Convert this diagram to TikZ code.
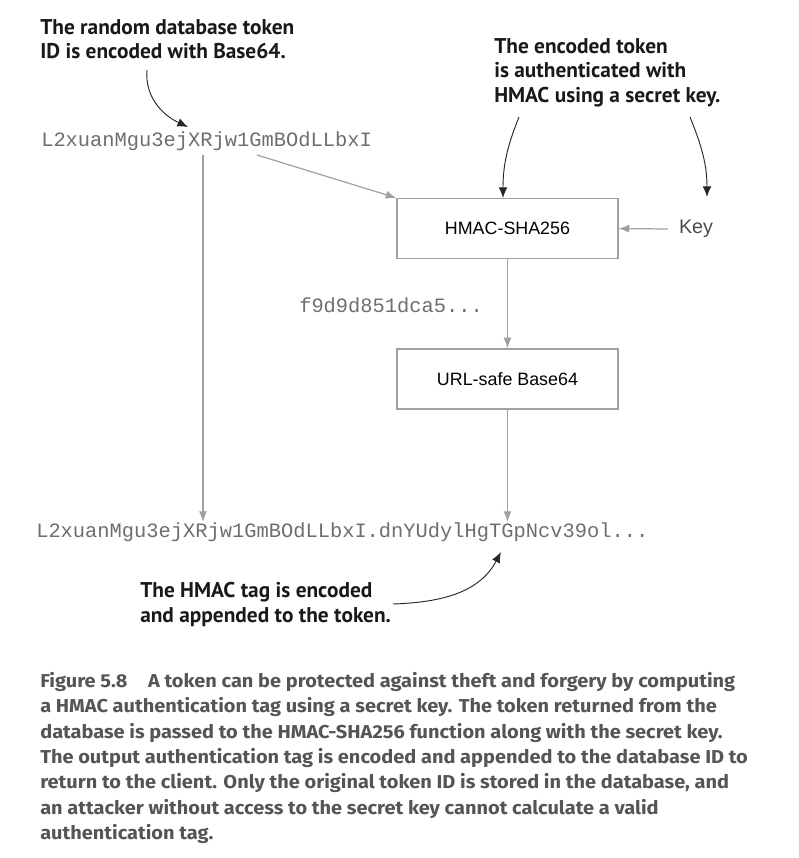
\documentclass[tikz,border=0pt]{standalone}
\usepackage{xcolor}
\usepackage{fontspec}
\setmainfont{Liberation Sans}
\newfontfamily\notefont{PT Sans}
\newfontfamily\capfont{Fira Sans}[FakeStretch=1.07]
\newfontfamily\codefont{Liberation Mono}
\usetikzlibrary{arrows.meta}
\definecolor{linegray}{HTML}{A0A0A0}
\definecolor{codegray}{HTML}{6E6E6E}
\definecolor{capgray}{HTML}{555555}

\begin{document}
\begin{tikzpicture}[
			x=0.75pt, y=-0.75pt,
			box/.style={draw=linegray, line width=0.9pt, minimum width=165.75pt, minimum height=45pt, inner sep=0pt, font=\fontsize{13.4}{16}\selectfont},
			code/.style={inner sep=0pt, text=codegray, font=\codefont\fontsize{15.3}{18}\selectfont},
			note/.style={inner sep=0pt, align=left, anchor=north west, text=black!90, font=\notefont\bfseries\fontsize{16}{18.4}\selectfont},
			flow/.style={draw=linegray, line width=0.9pt, -{Latex[length=8pt, width=6pt]}},
			hint/.style={draw=black!85, line width=0.7pt, -{Latex[length=8pt, width=6.5pt]}}
			]
			\useasboundingbox (0,0) rectangle (799,858);
			% tokens and boxes
			\node[code, anchor=base west] (tok) at (41,146) {L2xuanMgu3ejXRjw1GmBOdLLbxI};
			\node[box] (hmac) at (507.5,228.5) {HMAC-SHA256};
			\node[box] (b64) at (507.5,379) {URL-safe Base64};
			\node[inner sep=0pt, text=black!70, font=\fontsize{14.8}{17}\selectfont] (key) at (696,229) {Key};
			\node[code, anchor=base west] (tag) at (299,312) {f9d9d851dca5...};
			\node[code, anchor=base west] (out) at (36,537) {L2xuanMgu3ejXRjw1GmBOdLLbxI.dnYUdylHgTGpNcv39ol...};
			% notes
			\node[note] (n1) at (40,19) {The random database token\\ID is encoded with Base64.};
			\node[note] (n2) at (494,38) {The encoded token\\is authenticated with\\HMAC using a secret key.};
			\node[note] (n3) at (140,582) {The HMAC tag is encoded\\and appended to the token.};
			% caption
			\node[inner sep=0pt, anchor=north west, align=left, text=capgray, font=\capfont\bfseries\fontsize{14}{19}\selectfont] (cap) at (40,672)
				{Figure 5.8\hspace{1.1em}A token can be protected against theft and forgery by computing\\
				a HMAC authentication tag using a secret key. The token returned from the\\
				database is passed to the HMAC-SHA256 function along with the secret key.\\
				The output authentication tag is encoded and appended to the database ID to\\
				return to the client. Only the original token ID is stored in the database, and\\
				an attacker without access to the secret key cannot calculate a valid\\
				authentication tag.};
			% connectors
			\coordinate (t1) at (203,155);
			\coordinate (t2) at (257,155);
			\coordinate (k1) at (668,229);
			\draw[flow] (t1) -- (t1 |- out.north);
			\draw[flow] (t2) -- (hmac.north west);
			\draw[flow] (k1) -- (hmac.east);
			\draw[flow] (hmac) -- (b64);
			\draw[flow] (b64.south) -- (b64.south |- out.north);
			% note arrows
			\coordinate (a1) at (147,70);
			\coordinate (a2) at (519,117);
			\coordinate (a3) at (690,117);
			\coordinate (a4) at (393,604);
			\coordinate (e1) at (188,127);
			\coordinate (e2) at (503,198);
			\coordinate (e3) at (707,197);
			\coordinate (e4) at (501,552);
			\draw[hint] (a1) to[out=-95, in=155] (e1);
			\draw[hint] (a2) to[out=-112, in=90] (e2);
			\draw[hint] (a3) to[out=-68, in=90] (e3);
			\draw[hint] (a4) to[out=2, in=-118] (e4);
\end{tikzpicture}
\end{document}
